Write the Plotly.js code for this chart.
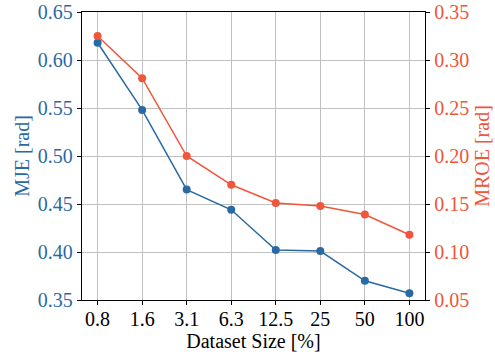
<!DOCTYPE html>
<html>
<head>
<meta charset="utf-8">
<script src="https://cdn.plot.ly/plotly-3.0.1.min.js"></script>
<style>html,body{margin:0;padding:0;background:#fff}#chart{width:495px;height:356px}</style>
</head>
<body>
<div id="chart"></div>
<script>
const datasetSizes = ["0.8", "1.6", "3.1", "6.3", "12.5", "25", "50", "100"];
const mje = [0.618, 0.548, 0.465, 0.444, 0.402, 0.401, 0.370, 0.357];
const mroe = [0.325, 0.281, 0.200, 0.170, 0.151, 0.148, 0.139, 0.118];
const leftTicks = [0.35, 0.40, 0.45, 0.50, 0.55, 0.60, 0.65];
const rightTicks = [0.05, 0.10, 0.15, 0.20, 0.25, 0.30, 0.35];

const blue = "#2a6aa3";
const red = "#f1553a";
const font = "Liberation Serif";

const traces = [
  {x: datasetSizes, y: mje, type: "scatter", mode: "lines+markers", yaxis: "y",
   line: {color: blue, width: 1.5}, marker: {color: blue, size: 8}},
  {x: datasetSizes, y: mroe, type: "scatter", mode: "lines+markers", yaxis: "y2",
   line: {color: red, width: 1.5}, marker: {color: red, size: 8}}
];

const layout = {
  width: 495, height: 356,
  margin: {l: 82, r: 70, t: 12, b: 56},
  showlegend: false,
  plot_bgcolor: "#fff", paper_bgcolor: "#fff",
  font: {family: font, size: 20, color: "#000"},
  xaxis: {
    type: "category", range: [-0.35, 7.35],
    showline: true, linecolor: "#000", linewidth: 1.2, mirror: true,
    ticks: "outside", ticklen: 4, tickcolor: "#000",
    ticklabelstandoff: -3,
    showgrid: true, gridcolor: "#c0c0c0", gridwidth: 1,
    tickfont: {family: font, size: 20, color: "#000"},
    title: {text: "Dataset Size [%]", font: {family: font, size: 20, color: "#000"}, standoff: 0},
    zeroline: false
  },
  yaxis: {
    range: [0.35, 0.65], tickvals: leftTicks, tickformat: ".2f",
    showline: true, linecolor: "#000", linewidth: 1.2,
    ticks: "outside", ticklen: 4, tickcolor: "#000",
    showgrid: true, gridcolor: "#c0c0c0", gridwidth: 1,
    tickfont: {family: font, size: 20, color: blue},
    title: {text: "MJE [rad]", font: {family: font, size: 20, color: blue}, standoff: 2},
    zeroline: false
  },
  yaxis2: {
    range: [0.05, 0.35], tickvals: rightTicks, tickformat: ".2f",
    overlaying: "y", side: "right",
    showline: true, linecolor: "#000", linewidth: 1.2,
    ticks: "outside", ticklen: 4, tickcolor: "#000",
    showgrid: false,
    tickfont: {family: font, size: 20, color: red},
    title: {text: "MROE [rad]", font: {family: font, size: 20, color: red}, standoff: 6},
    zeroline: false
  }
};

Plotly.newPlot("chart", traces, layout, {staticPlot: true, displayModeBar: false});
</script>
</body>
</html>
